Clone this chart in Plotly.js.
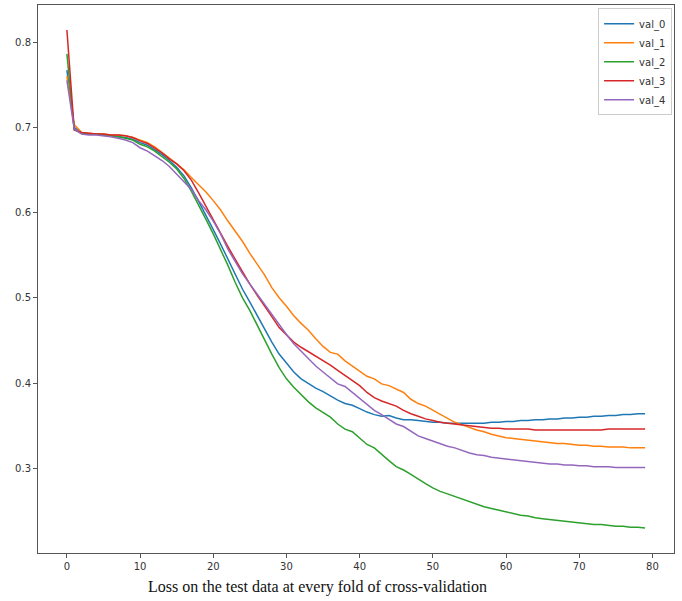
<!DOCTYPE html>
<html>
<head>
<meta charset="utf-8">
<script src="https://cdn.plot.ly/plotly-3.0.1.min.js"></script>
<style>html,body{margin:0;padding:0;background:#fff;}#chart{width:682px;height:601px;}</style>
</head>
<body>
<div id="chart"></div>
<script>
const epochs = Array.from({length: 80}, (_, i) => i);
const seriesNames = ["val_0", "val_1", "val_2", "val_3", "val_4"];
const val_0 = [0.767, 0.700, 0.693, 0.692, 0.692, 0.691, 0.690, 0.689, 0.688, 0.686,
 0.682, 0.679, 0.674, 0.668, 0.661, 0.653, 0.643, 0.629, 0.613, 0.597,
 0.580, 0.563, 0.545, 0.527, 0.510, 0.495, 0.479, 0.463, 0.448, 0.434,
 0.423, 0.413, 0.405, 0.399, 0.394, 0.390, 0.385, 0.380, 0.376, 0.374,
 0.370, 0.366, 0.363, 0.361, 0.362, 0.359, 0.357, 0.357, 0.356, 0.355,
 0.354, 0.354, 0.353, 0.353, 0.353, 0.353, 0.353, 0.353, 0.354, 0.354,
 0.355, 0.355, 0.356, 0.356, 0.357, 0.357, 0.358, 0.358, 0.359, 0.359,
 0.360, 0.360, 0.361, 0.361, 0.362, 0.362, 0.363, 0.363, 0.364, 0.364];
const val_1 = [0.760, 0.703, 0.694, 0.693, 0.692, 0.692, 0.691, 0.691, 0.690, 0.688,
 0.685, 0.682, 0.677, 0.671, 0.664, 0.657, 0.650, 0.641, 0.633, 0.624,
 0.614, 0.603, 0.590, 0.578, 0.566, 0.552, 0.540, 0.527, 0.512, 0.500,
 0.490, 0.479, 0.470, 0.462, 0.452, 0.443, 0.436, 0.434, 0.426, 0.420,
 0.413, 0.408, 0.405, 0.399, 0.397, 0.393, 0.389, 0.381, 0.376, 0.373,
 0.368, 0.363, 0.358, 0.354, 0.351, 0.348, 0.345, 0.343, 0.340, 0.338,
 0.336, 0.335, 0.334, 0.333, 0.332, 0.331, 0.330, 0.329, 0.329, 0.328,
 0.327, 0.327, 0.326, 0.326, 0.325, 0.325, 0.325, 0.324, 0.324, 0.324];
const val_2 = [0.786, 0.697, 0.693, 0.692, 0.692, 0.691, 0.690, 0.689, 0.687, 0.685,
 0.680, 0.677, 0.672, 0.666, 0.659, 0.651, 0.640, 0.625, 0.609, 0.592,
 0.575, 0.557, 0.538, 0.518, 0.500, 0.485, 0.468, 0.450, 0.434, 0.418,
 0.405, 0.395, 0.386, 0.378, 0.371, 0.365, 0.360, 0.352, 0.346, 0.343,
 0.335, 0.328, 0.324, 0.316, 0.309, 0.302, 0.298, 0.293, 0.287, 0.282,
 0.277, 0.273, 0.270, 0.267, 0.264, 0.261, 0.258, 0.255, 0.253, 0.251,
 0.249, 0.247, 0.245, 0.244, 0.242, 0.241, 0.240, 0.239, 0.238, 0.237,
 0.236, 0.235, 0.234, 0.234, 0.233, 0.232, 0.232, 0.231, 0.231, 0.230];
const val_3 = [0.814, 0.697, 0.694, 0.693, 0.692, 0.692, 0.691, 0.691, 0.690, 0.688,
 0.684, 0.681, 0.676, 0.670, 0.663, 0.657, 0.649, 0.638, 0.623, 0.607,
 0.591, 0.575, 0.560, 0.545, 0.530, 0.516, 0.503, 0.491, 0.478, 0.465,
 0.456, 0.448, 0.442, 0.437, 0.432, 0.427, 0.421, 0.415, 0.409, 0.404,
 0.397, 0.389, 0.383, 0.379, 0.376, 0.373, 0.368, 0.364, 0.361, 0.358,
 0.356, 0.354, 0.353, 0.352, 0.351, 0.350, 0.349, 0.348, 0.347, 0.347,
 0.346, 0.346, 0.346, 0.346, 0.345, 0.345, 0.345, 0.345, 0.345, 0.345,
 0.345, 0.345, 0.345, 0.345, 0.346, 0.346, 0.346, 0.346, 0.346, 0.346];
const val_4 = [0.755, 0.698, 0.692, 0.691, 0.691, 0.690, 0.689, 0.687, 0.685, 0.682,
 0.676, 0.672, 0.667, 0.661, 0.654, 0.645, 0.636, 0.627, 0.614, 0.603,
 0.590, 0.575, 0.557, 0.542, 0.528, 0.516, 0.504, 0.492, 0.480, 0.468,
 0.457, 0.446, 0.437, 0.428, 0.420, 0.413, 0.406, 0.399, 0.396, 0.389,
 0.382, 0.374, 0.368, 0.363, 0.357, 0.352, 0.349, 0.343, 0.338, 0.335,
 0.332, 0.329, 0.326, 0.324, 0.321, 0.318, 0.316, 0.315, 0.313, 0.312,
 0.311, 0.310, 0.309, 0.308, 0.307, 0.306, 0.305, 0.305, 0.304, 0.304,
 0.303, 0.303, 0.302, 0.302, 0.302, 0.301, 0.301, 0.301, 0.301, 0.301];
const xTicks = [0, 10, 20, 30, 40, 50, 60, 70, 80];
const yTicks = [0.3, 0.4, 0.5, 0.6, 0.7, 0.8];
const captionText = "Loss on the test data at every fold of cross-validation";

const colors = ["#1f77b4", "#ff7f0e", "#2ca02c", "#d62728", "#9467bd"];
const allSeries = [val_0, val_1, val_2, val_3, val_4];
const traces = allSeries.map((ys, i) => ({
  x: epochs, y: ys, name: seriesNames[i], type: "scatter", mode: "lines",
  line: {color: colors[i], width: 1.5}
}));

const axisCommon = {
  showline: true, mirror: true, linecolor: "#555", linewidth: 1,
  showgrid: false, zeroline: false, ticks: "outside", ticklen: 4,
  tickcolor: "#555", tickfont: {family: "DejaVu Sans", size: 10, color: "#333"}
};
const layout = {
  width: 682, height: 601,
  margin: {l: 38, r: 8, t: 5, b: 48},
  paper_bgcolor: "#fff", plot_bgcolor: "#fff",
  xaxis: Object.assign({}, axisCommon, {range: [-3.95, 82.95], tickvals: xTicks, ticktext: xTicks.map(String)}),
  yaxis: Object.assign({}, axisCommon, {range: [0.2007, 0.8434], tickvals: yTicks, ticktext: yTicks.map(v => v.toFixed(1))}),
  showlegend: true,
  legend: {x: 0.997, y: 0.994, xanchor: "right", yanchor: "top",
    bgcolor: "rgba(255,255,255,0.9)", bordercolor: "#ccc", borderwidth: 1,
    font: {family: "DejaVu Sans", size: 10, color: "#333"}, itemwidth: 30, tracegroupgap: 0},
  annotations: [{text: captionText, xref: "paper", yref: "paper", x: 0.439, y: -0.062,
    xanchor: "center", yanchor: "middle", showarrow: false,
    font: {family: "Liberation Serif", size: 16, color: "#111"}}]
};
Plotly.newPlot("chart", traces, layout, {displayModeBar: false, staticPlot: true});
</script>
</body>
</html>
